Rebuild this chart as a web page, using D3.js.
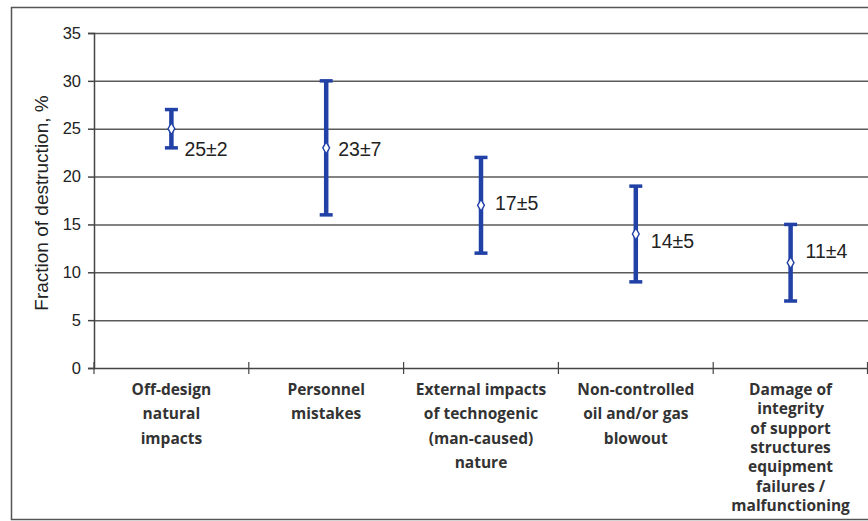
<!DOCTYPE html>
<html>
<head>
<meta charset="utf-8">
<script src="https://cdn.jsdelivr.net/npm/d3@7"></script>
<style>
  body { margin: 0; background: #fff; }
  svg { display: block; }
</style>
</head>
<body>
<script>
// Datos del gráfico
const categorias = [
  ["Off-design", "natural", "impacts"],
  ["Personnel", "mistakes"],
  ["External impacts", "of technogenic", "(man-caused)", "nature"],
  ["Non-controlled", "oil and/or gas", "blowout"],
  ["Damage of", "integrity", "of support", "structures", "equipment", "failures /", "malfunctioning"],
];
const valores = [25, 23, 17, 14, 11];
const errores = [2, 7, 5, 5, 4];
const etiquetas = ["25±2", "23±7", "17±5", "14±5", "11±4"];
const yTicks = [0, 5, 10, 15, 20, 25, 30, 35];

// Layout: desplazamiento de etiquetas y altura de línea de categorías
const etiquetaDx = [13, 12, 14, 15, 15];
const etiquetaDy = [20, 1, -2, 7, -12];
const lineaAlto = [24.3, 24.3, 24.3, 24.3, 19.3];

const width = 868;
const height = 521;
const margin = { top: 33, right: 0, bottom: 153, left: 94 };
const blue = "#2141a6";

const svg = d3.select("body").append("svg").attr("width", width).attr("height", height);

// Marco exterior
svg
  .append("rect")
  .attr("x", 11.5)
  .attr("y", 7.5)
  .attr("width", width)
  .attr("height", 512)
  .attr("fill", "none")
  .attr("stroke", "#555")
  .attr("stroke-width", 1.5);

const x = d3
  .scaleBand()
  .range([margin.left, width - margin.right])
  .domain(d3.range(categorias.length));

const y = d3
  .scaleLinear()
  .range([height - margin.bottom, margin.top])
  .domain([0, 35]);

// Rejilla
svg
  .append("g")
  .selectAll("line")
  .data(yTicks.filter((d) => d > 0))
  .enter()
  .append("line")
  .attr("x1", margin.left)
  .attr("x2", width - margin.right)
  .attr("y1", (d) => y(d) + 0.5)
  .attr("y2", (d) => y(d) + 0.5)
  .attr("stroke", "#5a5a5a")
  .attr("stroke-width", 1.5);

// Eje Y
const yAxis = d3.axisLeft(y).tickValues(yTicks).tickSize(6).tickPadding(7);
const gy = svg
  .append("g")
  .attr("transform", "translate(" + margin.left + ",0)")
  .call(yAxis);
gy.select(".domain").attr("stroke", "#444").attr("stroke-width", 1.5);
gy.selectAll(".tick line").attr("stroke", "#444").attr("stroke-width", 1.5);
gy.selectAll(".tick text")
  .attr("font-family", "Liberation Sans, Arial, sans-serif")
  .attr("font-size", 16.5)
  .attr("fill", "#222");

// Eje X
const xAxis = d3.axisBottom(x).tickSize(0).tickFormat("");
const gx = svg
  .append("g")
  .attr("transform", "translate(0," + y(0) + ")")
  .call(xAxis);
gx.select(".domain").attr("stroke", "#444").attr("stroke-width", 1.5);

// Marcas entre categorías
gx.append("g")
  .selectAll("line")
  .data(d3.range(categorias.length + 1))
  .enter()
  .append("line")
  .attr("x1", (i) => (i < categorias.length ? x(i) : x.range()[1] - 0.5))
  .attr("x2", (i) => (i < categorias.length ? x(i) : x.range()[1] - 0.5))
  .attr("y1", -6)
  .attr("y2", 6)
  .attr("stroke", "#444")
  .attr("stroke-width", 1.2);

// Etiquetas de categorías
const catText = svg
  .append("g")
  .selectAll("text")
  .data(categorias)
  .enter()
  .append("text")
  .attr("x", (_, i) => x(i) + x.bandwidth() / 2)
  .attr("y", y(0) + 27)
  .attr("text-anchor", "middle")
  .attr("font-family", "Open Sans, sans-serif")
  .attr("font-weight", "bold")
  .attr("font-size", 15.5)
  .attr("fill", "#333");

catText.each(function (lineas, ci) {
  const t = d3.select(this);
  t.selectAll("tspan")
    .data(lineas)
    .enter()
    .append("tspan")
    .attr("x", t.attr("x"))
    .attr("dy", (_, i) => (i === 0 ? 0 : lineaAlto[ci]))
    .text((d) => d);
});

// Título eje Y
svg
  .append("text")
  .attr("transform", "translate(48,203) rotate(-90)")
  .attr("text-anchor", "middle")
  .attr("font-family", "Liberation Sans, Arial, sans-serif")
  .attr("font-size", 19)
  .attr("fill", "#222")
  .text("Fraction of destruction, %");

// Barras de error
const cx = (i) => x(i) + x.bandwidth() / 2;
const err = svg.append("g").selectAll("g").data(valores).enter().append("g");

err
  .append("line")
  .attr("x1", (_, i) => cx(i))
  .attr("x2", (_, i) => cx(i))
  .attr("y1", (d, i) => y(d + errores[i]))
  .attr("y2", (d, i) => y(d - errores[i]))
  .attr("stroke", blue)
  .attr("stroke-width", 4.5);

err
  .selectAll(".cap")
  .data((d, i) => [d + errores[i], d - errores[i]].map((v) => ({ v, i })))
  .enter()
  .append("line")
  .attr("class", "cap")
  .attr("x1", (d) => cx(d.i) - 6.5)
  .attr("x2", (d) => cx(d.i) + 6.5)
  .attr("y1", (d) => y(d.v))
  .attr("y2", (d) => y(d.v))
  .attr("stroke", blue)
  .attr("stroke-width", 3.5);

err
  .append("path")
  .attr("d", d3.symbol().type(d3.symbolDiamond).size(40))
  .attr("transform", (d, i) => "translate(" + cx(i) + "," + y(d) + ")")
  .attr("fill", "#fff")
  .attr("stroke", blue)
  .attr("stroke-width", 1.4);

err
  .append("text")
  .attr("x", (_, i) => cx(i) + etiquetaDx[i])
  .attr("y", (d, i) => y(d) + etiquetaDy[i])
  .attr("dy", "0.36em")
  .attr("font-family", "Liberation Sans, Arial, sans-serif")
  .attr("font-size", 19.5)
  .attr("fill", "#222")
  .text((_, i) => etiquetas[i]);
</script>
</body>
</html>
